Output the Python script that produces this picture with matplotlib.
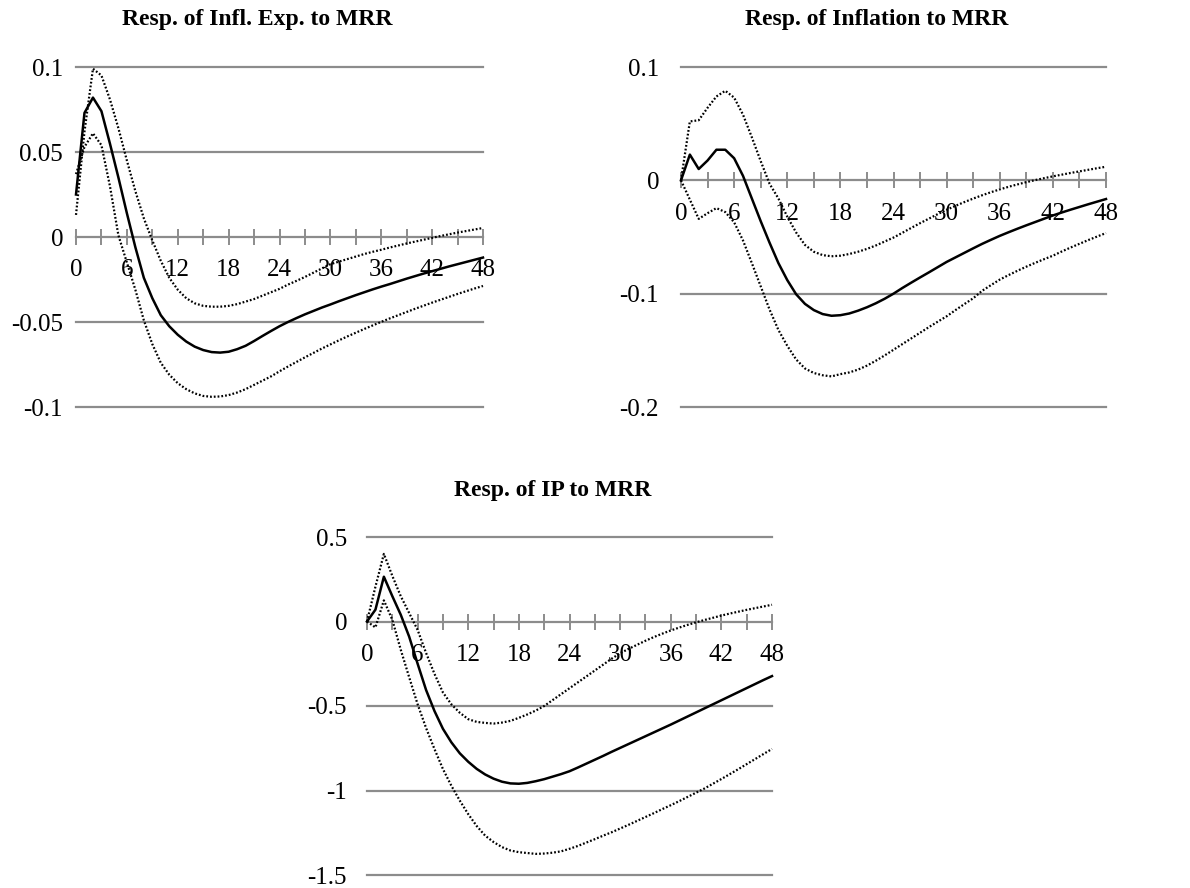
import matplotlib
matplotlib.use("Agg")
import matplotlib.pyplot as plt
import numpy as np

plt.rcParams['font.family'] = ['Liberation Serif', 'DejaVu Serif']

horizon = list(range(49))

# Panel 1: Response of inflation expectations to MRR
infl_exp_mid = [0.025, 0.073, 0.082, 0.074, 0.055, 0.035, 0.014, -0.006, -0.024, -0.036,
                -0.046, -0.0525, -0.0575, -0.0615, -0.0645, -0.0665, -0.0677, -0.068, -0.0675, -0.066,
                -0.064, -0.0612, -0.0582, -0.0553, -0.0525, -0.050, -0.0477, -0.0455, -0.0435, -0.0415,
                -0.0397, -0.0378, -0.036, -0.0342, -0.0325, -0.0308, -0.0292, -0.0277, -0.0261, -0.0245,
                -0.023, -0.0215, -0.0201, -0.0187, -0.0173, -0.016, -0.0147, -0.0134, -0.0121]
infl_exp_up = [0.013, 0.062, 0.099, 0.095, 0.081, 0.064, 0.045, 0.027, 0.011, -0.002,
               -0.014, -0.024, -0.031, -0.036, -0.039, -0.0405, -0.041, -0.041, -0.0405, -0.0395,
               -0.038, -0.0365, -0.0345, -0.0325, -0.0305, -0.028, -0.0258, -0.0235, -0.021, -0.0185,
               -0.016, -0.0145, -0.013, -0.0115, -0.010, -0.0087, -0.0075, -0.0062, -0.005, -0.0038,
               -0.0027, -0.0016, -0.0005, 0.0006, 0.0016, 0.0026, 0.0035, 0.0044, 0.0053]
infl_exp_lo = [0.037, 0.053, 0.061, 0.054, 0.030, 0.001, -0.015, -0.031, -0.049, -0.063,
               -0.074, -0.081, -0.086, -0.0895, -0.092, -0.0935, -0.094, -0.0938, -0.093, -0.0915,
               -0.0895, -0.087, -0.0845, -0.082, -0.079, -0.0762, -0.0735, -0.0708, -0.0682, -0.0656,
               -0.0632, -0.0608, -0.0585, -0.0563, -0.0541, -0.052, -0.0499, -0.0479, -0.046, -0.0441,
               -0.0422, -0.0404, -0.0386, -0.0369, -0.0352, -0.0335, -0.0319, -0.0303, -0.0288]

# Panel 2: Response of inflation to MRR
infl_mid = [0.0, 0.0227, 0.0100, 0.0175, 0.027, 0.027, 0.0195, 0.004, -0.016, -0.036,
            -0.055, -0.073, -0.088, -0.1005, -0.109, -0.1145, -0.118, -0.1195, -0.119, -0.1175,
            -0.115, -0.112, -0.1085, -0.1045, -0.100, -0.095, -0.0903, -0.0857, -0.0812, -0.0766,
            -0.072, -0.068, -0.064, -0.060, -0.0561, -0.0525, -0.049, -0.0458, -0.0427, -0.0397,
            -0.0368, -0.0339, -0.031, -0.0284, -0.0259, -0.0235, -0.0211, -0.0188, -0.0165]
infl_up = [0.0, 0.052, 0.053, 0.064, 0.074, 0.079, 0.073, 0.058, 0.038, 0.017,
           -0.003, -0.016, -0.032, -0.046, -0.057, -0.063, -0.066, -0.067, -0.0665, -0.065,
           -0.063, -0.0605, -0.0575, -0.054, -0.0505, -0.0463, -0.042, -0.0378, -0.0338, -0.0298,
           -0.026, -0.0225, -0.0192, -0.0161, -0.0132, -0.0105, -0.008, -0.0057, -0.0036, -0.0016,
           0.0002, 0.0019, 0.0035, 0.005, 0.0065, 0.0079, 0.0093, 0.0107, 0.012]
infl_lo = [0.0, -0.017, -0.034, -0.029, -0.0245, -0.028, -0.037, -0.053, -0.073, -0.0935,
           -0.114, -0.132, -0.146, -0.158, -0.166, -0.170, -0.172, -0.173, -0.171, -0.1695,
           -0.167, -0.1635, -0.1592, -0.1545, -0.1495, -0.1445, -0.1395, -0.1345, -0.1295, -0.1247,
           -0.120, -0.1145, -0.1092, -0.1041, -0.0975, -0.0925, -0.0876, -0.0836, -0.0798, -0.0762,
           -0.0728, -0.0696, -0.0665, -0.0628, -0.0593, -0.056, -0.0527, -0.0496, -0.0465]

# Panel 3: Response of IP to MRR
ip_mid = [0.0, 0.07, 0.265, 0.15, 0.04, -0.09, -0.25, -0.405, -0.53, -0.635,
          -0.715, -0.78, -0.83, -0.872, -0.905, -0.93, -0.948, -0.958, -0.96, -0.955,
          -0.945, -0.933, -0.918, -0.903, -0.886, -0.864, -0.841, -0.818, -0.795, -0.771,
          -0.748, -0.725, -0.702, -0.679, -0.656, -0.633, -0.61, -0.586, -0.562, -0.538,
          -0.514, -0.49, -0.466, -0.442, -0.418, -0.394, -0.37, -0.346, -0.323]
ip_up = [0.0, 0.206, 0.40, 0.27, 0.15, 0.05, -0.05, -0.186, -0.31, -0.42,
         -0.49, -0.54, -0.578, -0.594, -0.60, -0.604, -0.598, -0.588, -0.57, -0.55,
         -0.527, -0.50, -0.465, -0.43, -0.395, -0.36, -0.325, -0.29, -0.255, -0.22,
         -0.188, -0.162, -0.138, -0.114, -0.092, -0.072, -0.053, -0.036, -0.02, -0.005,
         0.009, 0.022, 0.035, 0.047, 0.058, 0.069, 0.079, 0.089, 0.099]
ip_lo = [0.0, -0.035, 0.125, 0.01, -0.167, -0.33, -0.49, -0.63, -0.755, -0.873,
         -0.972, -1.06, -1.14, -1.21, -1.267, -1.305, -1.335, -1.355, -1.365, -1.37,
         -1.375, -1.373, -1.368, -1.36, -1.345, -1.328, -1.308, -1.288, -1.267, -1.247,
         -1.225, -1.203, -1.18, -1.157, -1.134, -1.11, -1.087, -1.063, -1.038, -1.013,
         -0.988, -0.96, -0.932, -0.903, -0.874, -0.844, -0.814, -0.784, -0.754]

titles = ["Resp. of Infl. Exp. to MRR", "Resp. of Inflation to MRR", "Resp. of IP to MRR"]
yticks_list = [[-0.1, -0.05, 0, 0.05, 0.1], [-0.2, -0.1, 0, 0.1], [-1.5, -1, -0.5, 0, 0.5]]
ytick_labels_list = [["-0.1", "-0.05", "0", "0.05", "0.1"], ["-0.2", "-0.1", "0", "0.1"],
                     ["-1.5", "-1", "-0.5", "0", "0.5"]]
xlabel_ticks = [0, 6, 12, 18, 24, 30, 36, 42, 48]
minor_ticks = list(range(0, 49, 3))

W, H = 1190, 888
fig = plt.figure(figsize=(W / 100, H / 100), dpi=100)

# layout in pixels: (left, right, top, bottom), title center (x, y), ylabel pad
layouts = [((76, 483, 67, 407), (257, 20), 13),
           ((681, 1106, 67, 407), (877, 20), 22),
           ((367, 772, 537, 875), (553, 490), 20)]
data = [(infl_exp_mid, infl_exp_up, infl_exp_lo),
        (infl_mid, infl_up, infl_lo),
        (ip_mid, ip_up, ip_lo)]

grid_color = '#8c8c8c'
dot_style = (0, (0.8, 0.9))
for (box, tpos, pad), (mid, up, lo), title, yt, ytl in zip(layouts, data, titles, yticks_list, ytick_labels_list):
    l, r, t, b = box
    ax = fig.add_axes([l / W, (H - b) / H, (r - l) / W, (b - t) / H])
    ax.set_xlim(0, 48)
    ax.set_ylim(min(yt), max(yt))
    for s in ax.spines.values():
        s.set_visible(False)
    ax.set_xticks([])
    ax.set_yticks(yt)
    ax.set_yticklabels(ytl, fontsize=18)
    ax.tick_params(axis='y', length=0, pad=pad * 0.72)
    for v in yt:
        ax.axhline(v, color=grid_color, lw=1.6, zorder=1, clip_on=False)
    # category axis ticks crossing the zero line
    ax.plot(minor_ticks, [0] * len(minor_ticks), linestyle='none', marker='|',
            markersize=12, markeredgewidth=1.4, color=grid_color, zorder=1, clip_on=False)
    for xv in xlabel_ticks:
        ax.annotate(str(xv), xy=(xv, 0), xytext=(0, -24), textcoords='offset points',
                    ha='center', va='center', fontsize=18, zorder=2)
    ax.plot(horizon, mid, color='black', lw=1.8, zorder=3, clip_on=False)
    ax.plot(horizon, up, color='black', lw=1.6, linestyle=dot_style, zorder=3, clip_on=False)
    ax.plot(horizon, lo, color='black', lw=1.6, linestyle=dot_style, zorder=3, clip_on=False)
    fig.text(tpos[0] / W, 1 - tpos[1] / H, title, ha='center', va='center',
             fontsize=17, fontweight='bold')

fig.savefig("out.png", dpi=100)
